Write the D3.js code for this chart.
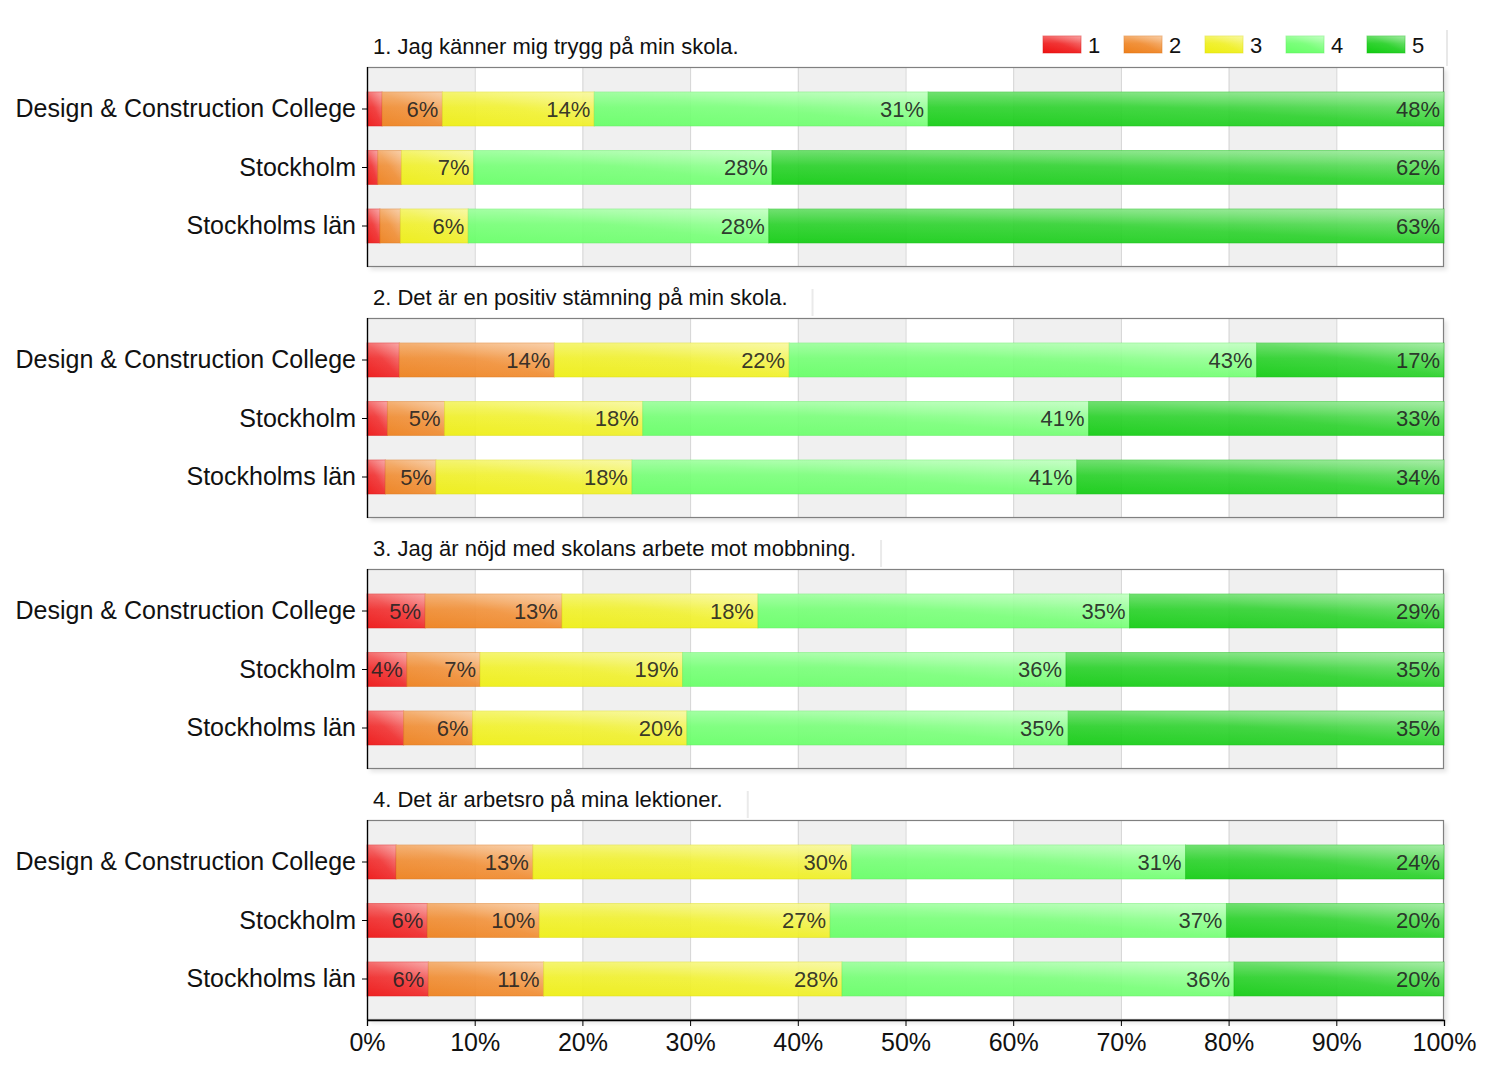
<!DOCTYPE html>
<html><head><meta charset="utf-8">
<script src="https://cdn.jsdelivr.net/npm/d3@7"></script>
<style>body{margin:0;background:#fff;} svg{display:block;font-family:"Liberation Sans",Arial,sans-serif;}</style>
</head><body>
<svg id="c" width="1500" height="1075"></svg>
<script>
const questions = [
  "1. Jag känner mig trygg på min skola.",
  "2. Det är en positiv stämning på min skola.",
  "3. Jag är nöjd med skolans arbete mot mobbning.",
  "4. Det är arbetsro på mina lektioner."
];
const groups = ["Design & Construction College", "Stockholm", "Stockholms län"];
const levels = ["1", "2", "3", "4", "5"];
const colors = ["#ee1111", "#ee7f1a", "#eeee11", "#66ff66", "#11cc11"];
const xTicks = [0, 10, 20, 30, 40, 50, 60, 70, 80, 90, 100];
// values[question][group] = shares of answers 1..5 (percent)
const q1 = [[1.4, 5.6, 14.1, 31.0, 47.9], [1.0, 2.2, 6.7, 27.7, 62.4], [1.2, 1.9, 6.3, 27.9, 62.7]];
const q2 = [[3.0, 14.4, 21.8, 43.4, 17.4], [1.9, 5.3, 18.4, 41.4, 33.0], [1.7, 4.7, 18.2, 41.3, 34.1]];
const q3 = [[5.4, 12.7, 18.2, 34.5, 29.2], [3.7, 6.8, 18.8, 35.6, 35.1], [3.4, 6.4, 19.9, 35.4, 34.9]];
const q4 = [[2.7, 12.7, 29.6, 31.0, 24.0], [5.6, 10.4, 27.0, 36.8, 20.2], [5.7, 10.7, 27.7, 36.4, 19.5]];
const values = [q1, q2, q3, q4];

const svg = d3.select("#c");
const left = 367, right = 1444;
const panelTop0 = 67, panelH = 200, panelStep = 251;
const x = d3.scaleLinear().domain([0, 100]).range([left, right]);
const FONT = "Liberation Sans, Arial, sans-serif";

const defs = svg.append("defs");
colors.forEach((c, i) => {
  const g = defs.append("linearGradient").attr("id", "g" + i)
    .attr("x1", 0).attr("y1", 1).attr("x2", 1).attr("y2", 0);
  g.append("stop").attr("offset", "0%").attr("stop-color", c);
  g.append("stop").attr("offset", "50%").attr("stop-color", d3.interpolateRgb(c, "#ffffff")(0.1));
  g.append("stop").attr("offset", "100%").attr("stop-color", d3.interpolateRgb(c, "#ffffff")(0.45));
  const gv = defs.append("linearGradient").attr("id", "v" + i)
    .attr("x1", 0).attr("y1", 0).attr("x2", 0).attr("y2", 1);
  gv.append("stop").attr("offset", "0%").attr("stop-color", "#fff").attr("stop-opacity", 0.28);
  gv.append("stop").attr("offset", "45%").attr("stop-color", "#fff").attr("stop-opacity", 0.06);
  gv.append("stop").attr("offset", "100%").attr("stop-color", "#fff").attr("stop-opacity", 0);
});
const shadow = defs.append("filter").attr("id", "sh").attr("x", "-5%").attr("y", "-5%").attr("width", "115%").attr("height", "130%");
shadow.append("feDropShadow").attr("dx", 3).attr("dy", 3).attr("stdDeviation", 2).attr("flood-color", "#000").attr("flood-opacity", 0.1);

values.forEach((qv, qi) => {
  const top = panelTop0 + qi * panelStep;
  const g = svg.append("g");
  const y = d3.scaleBand().domain(groups).range([top + 12.75, top + 188.25]).paddingInner(0.42).paddingOuter(0.21);

  g.append("rect").attr("x", left).attr("y", top).attr("width", right - left).attr("height", panelH)
    .attr("fill", "#fff").attr("filter", "url(#sh)");
  g.selectAll(".band").data(xTicks.slice(0, -1).filter((d, i) => i % 2 === 0)).join("rect")
    .attr("x", d => x(d)).attr("y", top).attr("width", d => x(d + 10) - x(d)).attr("height", panelH)
    .attr("fill", "#f0f0f0");
  g.selectAll(".grid").data(xTicks.slice(1, -1)).join("line")
    .attr("x1", d => x(d) + 0.5).attr("x2", d => x(d) + 0.5).attr("y1", top).attr("y2", top + panelH)
    .attr("stroke", "#d4d4d4").attr("stroke-width", 1);
  g.append("rect").attr("x", left + 0.5).attr("y", top + 0.5).attr("width", right - left - 1).attr("height", panelH - 1)
    .attr("fill", "none").attr("stroke", "#808080").attr("stroke-width", 1.2);

  qv.forEach((row, gi) => {
    let cum = 0;
    const segs = row.map((v, li) => { const s = { v, li, x0: cum, x1: cum + v }; cum += v; return s; });
    const by = y(groups[gi]), bh = y.bandwidth();
    const bg = g.append("g");
    bg.selectAll(".seg").data(segs).join("rect")
      .attr("x", d => x(d.x0)).attr("y", by).attr("width", d => x(d.x1) - x(d.x0)).attr("height", bh)
      .attr("fill", d => `url(#g${d.li})`).attr("fill-opacity", 0.93)
      .attr("stroke", d => d3.color(colors[d.li]).darker(0.2)).attr("stroke-opacity", 0.5).attr("stroke-width", 1);
    bg.selectAll(".hl").data(segs).join("rect")
      .attr("x", d => x(d.x0)).attr("y", by).attr("width", d => x(d.x1) - x(d.x0)).attr("height", bh)
      .attr("fill", d => `url(#v${d.li})`);
    bg.selectAll(".lbl").data(segs.filter(d => d.v >= 3.5)).join("text")
      .attr("x", d => x(d.x1) - 4).attr("y", by + bh / 2).attr("dy", "0.36em")
      .attr("text-anchor", "end").attr("font-size", 22).attr("fill", "#222").attr("fill-opacity", 0.9)
      .text(d => Math.round(d.v) + "%");
  });

  const ya = g.append("g").attr("transform", `translate(${left},0)`)
    .call(d3.axisLeft(y).tickSize(5).tickPadding(6));
  ya.select(".domain").attr("stroke", "#000").attr("stroke-width", 1.3).attr("d", `M0.5,${top}V${top + panelH}`);
  ya.selectAll(".tick line").attr("stroke", "#000");
  ya.selectAll(".tick text").attr("font-size", 25).attr("fill", "#111").attr("font-family", FONT);

  const tg = g.append("g");
  const tt = tg.append("text").attr("x", left + 6).attr("y", top - 13).attr("font-size", 22).attr("fill", "#111").text(questions[qi]);
  const tw = tt.node().getComputedTextLength();
  if (qi > 0) {
    tg.insert("line", "text").attr("x1", left + 6 + tw + 25).attr("x2", left + 6 + tw + 25).attr("y1", top - 29).attr("y2", top - 2)
      .attr("stroke", "#eaeaea").attr("stroke-width", 2);
  }

  if (qi === values.length - 1) {
    const xa = g.append("g").attr("transform", `translate(0,${top + panelH})`)
      .call(d3.axisBottom(x).tickValues(xTicks).tickFormat(d => d + "%").tickSize(6).tickPadding(7));
    xa.select(".domain").attr("stroke", "#000").attr("stroke-width", 1.3);
    xa.selectAll(".tick line").attr("stroke", "#000");
    xa.selectAll(".tick text").attr("font-size", 25).attr("fill", "#111").attr("font-family", FONT);
  }
});

const lg = svg.append("g");
lg.append("line").attr("x1", 1447).attr("x2", 1447).attr("y1", 30).attr("y2", 66).attr("stroke", "#e8e8e8").attr("stroke-width", 2);
const items = lg.selectAll(".li").data(levels).join("g")
  .attr("transform", (d, i) => `translate(${1043 + i * 81},36)`);
items.append("rect").attr("width", 38).attr("height", 17).attr("fill", (d, i) => `url(#g${i})`)
  .attr("stroke", (d, i) => d3.color(colors[i]).darker(0.2)).attr("stroke-opacity", 0.5);
items.append("rect").attr("width", 38).attr("height", 17).attr("fill", (d, i) => `url(#v${i})`);
items.append("text").attr("x", 45).attr("y", 9).attr("dy", "0.36em").attr("font-size", 22).attr("fill", "#111").text(d => d);
</script>
</body></html>
